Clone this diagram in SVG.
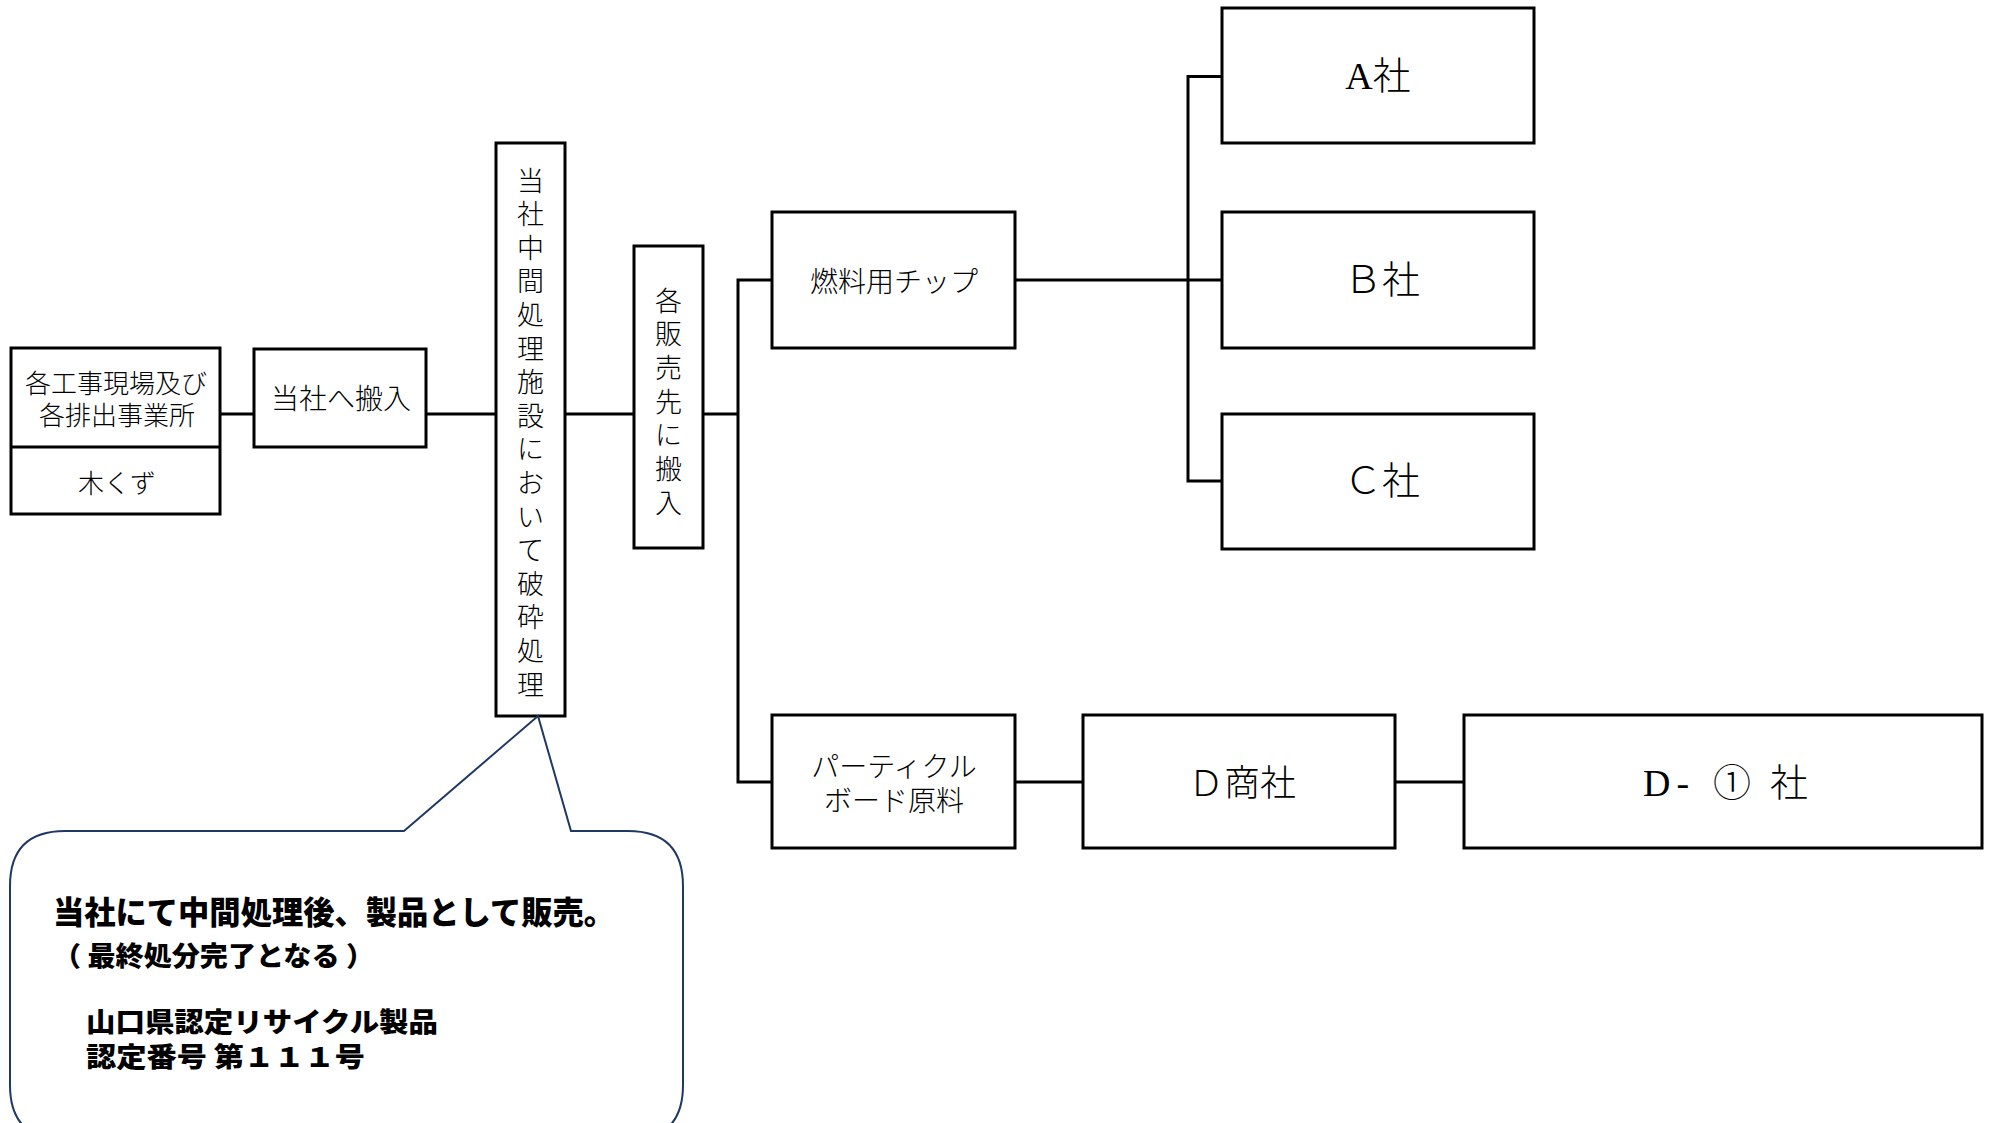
<svg xmlns="http://www.w3.org/2000/svg" width="1990" height="1123" viewBox="0 0 1990 1123">
<style>
.box{fill:#fff;stroke:#000;stroke-width:3}
.ln{fill:none;stroke:#000;stroke-width:3}
.t{font-family:"Liberation Serif","Noto Sans CJK JP",serif;font-weight:300;fill:#000;text-anchor:middle;dominant-baseline:central}
.ts{font-family:"Liberation Serif","Noto Sans CJK JP",serif;font-weight:300;fill:#000;text-anchor:start;dominant-baseline:central}
.j{font-family:"Noto Sans CJK JP","Liberation Sans",sans-serif;font-weight:300;fill:#000;text-anchor:middle;dominant-baseline:central}
.v{font-family:"Noto Sans CJK JP","Liberation Sans",sans-serif;font-weight:300;fill:#000;text-anchor:middle;dominant-baseline:central;font-size:27px}
.b{font-family:"Noto Sans CJK JP","Liberation Sans",sans-serif;font-weight:900;fill:#000;dominant-baseline:central}
</style>
<rect width="1990" height="1123" fill="#fff"/>
<g id="connectors">
<line class="ln" x1="220" y1="414" x2="254" y2="414"/>
<line class="ln" x1="426" y1="414" x2="496" y2="414"/>
<line class="ln" x1="565" y1="414" x2="634" y2="414"/>
<line class="ln" x1="703" y1="414" x2="738" y2="414"/>
<polyline class="ln" points="772,280 738,280 738,782 772,782"/>
<line class="ln" x1="1015" y1="280" x2="1222" y2="280"/>
<polyline class="ln" points="1222,76.5 1188,76.5 1188,481 1222,481"/>
<line class="ln" x1="1015" y1="782" x2="1083" y2="782"/>
<line class="ln" x1="1395" y1="782" x2="1464" y2="782"/>
</g>
<g id="source">
<rect class="box" x="11" y="348" width="209" height="166"/>
<line class="ln" x1="11" y1="447" x2="220" y2="447"/>
<text class="j" font-size="26" x="116" y="381">各工事現場及び</text>
<text class="j" font-size="26" x="117" y="413">各排出事業所</text>
<text class="j" font-size="26" x="117" y="481">木くず</text>
</g>
<g id="carry-in">
<rect class="box" x="254" y="349" width="172" height="98"/>
<text class="j" font-size="28" x="341" y="397">当社へ搬入</text>
</g>
<g id="facility">
<rect class="box" x="496" y="143" width="69" height="573"/>
<text class="v" x="530.5" y="179">当</text>
<text class="v" x="530.5" y="212.6">社</text>
<text class="v" x="530.5" y="246.2">中</text>
<text class="v" x="530.5" y="279.8">間</text>
<text class="v" x="530.5" y="313.4">処</text>
<text class="v" x="530.5" y="347">理</text>
<text class="v" x="530.5" y="380.6">施</text>
<text class="v" x="530.5" y="414.2">設</text>
<text class="v" x="530.5" y="447.8">に</text>
<text class="v" x="530.5" y="481.4">お</text>
<text class="v" x="530.5" y="515">い</text>
<text class="v" x="530.5" y="548.6">て</text>
<text class="v" x="530.5" y="582.2">破</text>
<text class="v" x="530.5" y="615.8">砕</text>
<text class="v" x="530.5" y="649.4">処</text>
<text class="v" x="530.5" y="683">理</text>
</g>
<g id="sales-carry">
<rect class="box" x="634" y="246" width="69" height="302"/>
<text class="v" x="668.5" y="299">各</text>
<text class="v" x="668.5" y="332.7">販</text>
<text class="v" x="668.5" y="366.4">売</text>
<text class="v" x="668.5" y="400.1">先</text>
<text class="v" x="668.5" y="433.8">に</text>
<text class="v" x="668.5" y="467.5">搬</text>
<text class="v" x="668.5" y="501.2">入</text>
</g>
<g id="fuel-chip">
<rect class="box" x="772" y="212" width="243" height="136"/>
<text class="j" font-size="28" x="894" y="280">燃料用チップ</text>
</g>
<g id="company-a">
<rect class="box" x="1222" y="8" width="312" height="135"/>
<text class="t" font-size="38" x="1378" y="76">A社</text>
</g>
<g id="company-b">
<rect class="box" x="1222" y="212" width="312" height="136"/>
<text class="t" font-size="38" x="1382" y="280">Ｂ社</text>
</g>
<g id="company-c">
<rect class="box" x="1222" y="414" width="312" height="135"/>
<text class="t" font-size="38" x="1382" y="481">Ｃ社</text>
</g>
<g id="particle-board">
<rect class="box" x="772" y="715" width="243" height="133"/>
<text class="j" font-size="28" x="894" y="765">パーティクル</text>
<text class="j" font-size="28" x="894" y="799">ボード原料</text>
</g>
<g id="d-trading">
<rect class="box" x="1083" y="715" width="312" height="133"/>
<text class="t" font-size="36" x="1242" y="784">Ｄ商社</text>
</g>
<g id="d1-company">
<rect class="box" x="1464" y="715" width="518" height="133"/>
<text class="ts" font-size="38" y="783"><tspan x="1643" letter-spacing="6">D-</tspan><tspan x="1713">①</tspan><tspan x="1770">社</tspan></text>
</g>
<g id="callout">
<path d="M65,831 L404,831 L538,716 L571,831 L628,831 Q683,831 683,886 L683,1085 Q683,1140 628,1140 L65,1140 Q10,1140 10,1085 L10,886 Q10,831 65,831 Z" fill="#fff" stroke="#203864" stroke-width="2"/>
<text class="b" font-size="32" x="53" y="910" textLength="562" lengthAdjust="spacingAndGlyphs">当社にて中間処理後、製品として販売。</text>
<text class="b" font-size="27" x="53" y="954" textLength="321" lengthAdjust="spacingAndGlyphs">（ 最終処分完了となる ）</text>
<text class="b" font-size="27" x="86" y="1020" textLength="352" lengthAdjust="spacingAndGlyphs">山口県認定リサイクル製品</text>
<text class="b" font-size="27" x="86" y="1055" textLength="279" lengthAdjust="spacingAndGlyphs">認定番号 第１１１号</text>
</g>
</svg>
